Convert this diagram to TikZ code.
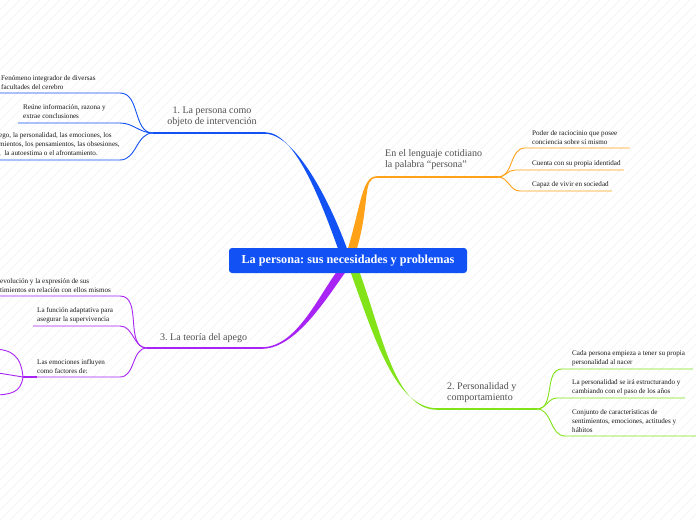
\documentclass[tikz,border=0pt]{standalone}
\usepackage{fontspec}
\setmainfont{Liberation Serif}
\frenchspacing
\definecolor{cblue}{RGB}{18,82,245}
\definecolor{corange}{RGB}{255,162,24}
\definecolor{cpurple}{RGB}{168,36,245}
\definecolor{cgreen}{RGB}{130,228,24}
\definecolor{lbl}{RGB}{80,80,80}
\definecolor{txt}{RGB}{25,25,25}
\tikzset{
  mainlbl/.style={font=\frenchspacing\fontsize{10}{11.5}\selectfont, text=lbl, align=left, inner sep=0pt, anchor=south west},
  leaf/.style={font=\frenchspacing\fontsize{7.1}{9.2}\selectfont, text=txt, align=left, inner sep=0pt, anchor=south west},
  twig/.style={line width=0.9pt},
  limb/.style={line width=1.5pt},
}
\newcommand\taper[9]{\fill[#1] (#2-4.5,#3) .. controls (#4-4.5,#5) and (#6,#7-0.8) .. (#8,#9-0.8) -- (#8,#9+0.8) .. controls (#6,#7+0.8) and (#4+4.5,#5) .. (#2+4.5,#3) -- cycle;}
\begin{document}
\begin{tikzpicture}[x=1pt,y=-1pt]
\useasboundingbox (0,0) rectangle (696,520);
\fill[white] (0,0) rectangle (696,520);
\begin{scope}
\clip (0,0) rectangle (696,520);
\foreach \i in {-520,-510,...,700} \draw[black!5, line width=0.4pt] (\i,520) -- (\i+520,0);
\end{scope}

% coordinates
\coordinate (bJ) at (153,133); \coordinate (bE) at (265,133);
\coordinate (b1e) at (120,93);  \coordinate (b1s) at (-2,93);
\coordinate (b2e) at (120,123); \coordinate (b2s) at (18,123);
\coordinate (b3e) at (120,160); \coordinate (b3s) at (-2,160);
\coordinate (oJ) at (498,177); \coordinate (oE) at (377,177);
\coordinate (o1e) at (525,148); \coordinate (o1s) at (630,148);
\coordinate (o2e) at (515,170); \coordinate (o2s) at (624,170);
\coordinate (o3e) at (520,191); \coordinate (o3s) at (612,191);
\coordinate (gJ) at (537,409); \coordinate (gE) at (437,409);
\coordinate (g1e) at (562,369); \coordinate (g1s) at (693,369);
\coordinate (g2e) at (557,398); \coordinate (g2s) at (685,398);
\coordinate (g3e) at (565,436); \coordinate (g3s) at (698,436);
\coordinate (pJ) at (147,348); \coordinate (pE) at (262,348);
\coordinate (p1e) at (120,296); \coordinate (p1s) at (-2,296);
\coordinate (p2e) at (120,326); \coordinate (p2s) at (33,326);
\coordinate (p3e) at (120,377); \coordinate (p3s) at (23,377);
\coordinate (pq1) at (-8,349); \coordinate (pq2) at (-8,372); \coordinate (pq3) at (-8,395);

% main tapered branches
\taper{cblue}{343}{250}{325}{200}{295}{133}{265}{133}
\taper{corange}{352}{250}{366}{203}{362}{177}{377}{177}
\taper{cpurple}{341}{272}{321}{300}{295}{348}{262}{348}
\taper{cgreen}{355}{272}{378}{335}{395}{409}{437}{409}

% horizontal limbs
\draw[cblue,limb] (bE) -- (bJ);
\draw[corange,limb] (oE) -- (oJ);
\draw[cgreen,limb] (gE) -- (gJ);
\draw[cpurple,limb] (pE) -- (pJ);

% twigs
\draw[cblue,twig] (bJ) to[out=180,in=0] (b1e) -- (b1s);
\draw[cblue,twig] (bJ) to[out=180,in=0] (b2e) -- (b2s);
\draw[cblue,twig] (bJ) to[out=180,in=0] (b3e) -- (b3s);
\draw[corange,twig] (oJ) to[out=0,in=180] (o1e) -- (o1s);
\draw[corange,twig] (oJ) to[out=0,in=180] (o2e) -- (o2s);
\draw[corange,twig] (oJ) to[out=0,in=180] (o3e) -- (o3s);
\draw[cgreen,twig] (gJ) to[out=0,in=180] (g1e) -- (g1s);
\draw[cgreen,twig] (gJ) to[out=0,in=180] (g2e) -- (g2s);
\draw[cgreen,twig] (gJ) to[out=0,in=180] (g3e) -- (g3s);
\draw[cpurple,twig] (pJ) to[out=180,in=0] (p1e) -- (p1s);
\draw[cpurple,twig] (pJ) to[out=180,in=0] (p2e) -- (p2s);
\draw[cpurple,twig] (pJ) to[out=180,in=0] (p3e) -- (p3s);
\draw[cpurple,line width=1.8pt] (p3s) -- ++(14,0);
\draw[cpurple,twig] (p3s) .. controls (21,356) and (12,349) .. (pq1);
\draw[cpurple,twig] (p3s) -- (pq2);
\draw[cpurple,twig] (p3s) .. controls (21,392) and (12,395) .. (pq3);

% central topic
\node[fill=cblue, rounded corners=3pt, minimum width=238pt, minimum height=25pt, inner sep=0pt,
      text=white, font=\frenchspacing\bfseries\fontsize{12.2}{14}\selectfont] (c) at (348,260.5)
      {La persona: sus necesidades y problemas};

% main labels
\node[mainlbl, anchor=south, align=center] (bL) at (212,127) {1. La persona como\\objeto de intervención};
\node[mainlbl] (oL) at (385,170) {En el lenguaje cotidiano\\la palabra “persona”};
\node[mainlbl] (gL) at (447,403) {2. Personalidad y\\comportamiento};
\node[mainlbl] (pL) at (160,343) {3. La teoría del apego};

% leaves
\node[leaf] (b1t) at (1,90) {Fenómeno integrador de diversas\\facultades del cerebro};
\node[leaf] (b2t) at (23,119) {Reúne información, razona y\\extrae conclusiones};
\node[leaf] (b3t) at (-1,157) {ego, la personalidad, las emociones, los\\mientos, los pensamientos, las obsesiones,\\,\ \ la autoestima o el afrontamiento.};
\node[leaf] (o1t) at (532,145) {Poder de raciocinio que posee\\conciencia sobre sí mismo};
\node[leaf] (o2t) at (532,167) {Cuenta con su propia identidad};
\node[leaf] (o3t) at (532,188) {Capaz de vivir en sociedad};
\node[leaf] (g1t) at (572,366) {Cada persona empieza a tener su propia\\personalidad al nacer};
\node[leaf] (g2t) at (572,395) {La personalidad se irá estructurando y\\cambiando con el paso de los años};
\node[leaf] (g3t) at (572,433) {Conjunto de características de\\sentimientos, emociones, actitudes y\\hábitos};
\node[leaf] (p1t) at (0,293) {evolución y la expresión de sus\\timientos en relación con ellos mismos};
\node[leaf] (p2t) at (37,323) {La función adaptativa para\\asegurar la supervivencia};
\node[leaf] (p3t) at (37,374) {Las emociones influyen\\como factores de:};
\end{tikzpicture}
\end{document}
